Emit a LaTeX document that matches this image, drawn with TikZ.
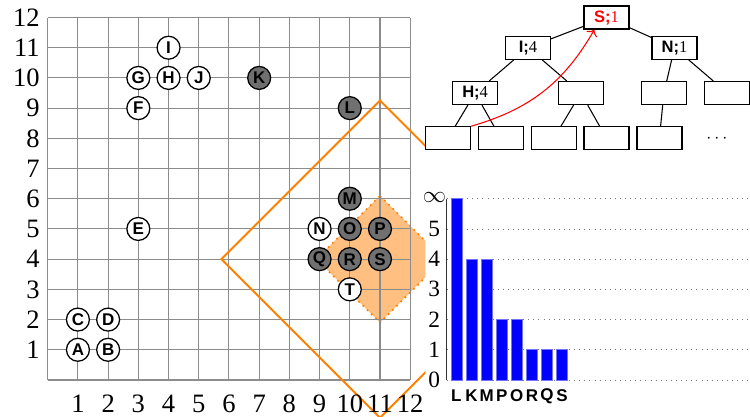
\documentclass[tikz,border=0pt]{standalone}
\usepackage{fontspec}
\setmainfont{Liberation Serif}
\setsansfont{Liberation Sans}
\usepackage{tikz}
\usetikzlibrary{arrows.meta}
\definecolor{figGrid}{RGB}{140,140,140}
\definecolor{figPoint}{RGB}{112,112,112}
\definecolor{figOrange}{RGB}{255,128,0}
\definecolor{figPeach}{RGB}{255,191,128}
\definecolor{figBar}{RGB}{0,0,255}
\definecolor{figDots}{RGB}{120,120,120}
\tikzset{
  figgrid/.style={draw=figGrid,line width=0.5pt},
  figptwhite/.style={circle,draw=black,line width=0.6pt,fill=white,minimum size=0.38cm,inner sep=0pt,font=\sffamily\bfseries\fontsize{8}{9}\selectfont},
  figptgray/.style={figptwhite,fill=figPoint},
  fignum/.style={inner sep=0pt,font=\fontsize{12.5}{14}\selectfont},
  figchartnum/.style={inner sep=0pt,font=\fontsize{11}{12}\selectfont,anchor=east},
  figtreebox/.style={draw=black,line width=0.6pt,fill=white,minimum width=0.745cm,minimum height=0.38cm,inner sep=0pt,font=\fontsize{7.8}{9}\selectfont},
  figedge/.style={draw=black,line width=0.5pt},
  figbar/.style={fill=figBar,draw=figBar!55,line width=0.3pt},
  figbarlabel/.style={inner sep=0pt,font=\sffamily\bfseries\fontsize{8}{9}\selectfont},
  figchartgrid/.style={draw=figDots,line width=0.4pt,dotted},
}
\newcommand{\TreeLabel}[2]{{\sffamily\bfseries #1;}#2}

\begin{document}
\begin{tikzpicture}[x=0.5cm,y=0.5cm]
\useasboundingbox (-1.58,-1.225) rectangle (23.25,12.58);

% Range regions, clipped to the grid side.
\begin{scope}
  \clip (-1.58,-1.225) rectangle (12.5,12.58);
  \draw[fill=figPeach,draw=figOrange,line width=0.8pt,dotted]
    (11,6.1) -- (13.1,4) -- (11,1.9) -- (8.9,4) -- cycle;
  \foreach \i in {0,...,12}{
    \draw[figgrid] (\i,0) -- (\i,12);
    \draw[figgrid] (0,\i) -- (12,\i);
  }
  \draw[draw=figOrange,line width=0.9pt]
    (11,9.25) -- (16.25,4) -- (11,-1.25) -- (5.75,4) -- cycle;
\end{scope}

% Axis numbers.
\foreach \i in {1,...,12}{
  \node[fignum,anchor=east] (ylab\i) at (-0.25,\i) {\i};
  \node[fignum] (xlab\i) at (\i,-0.8) {\i};
}

% Points.
\foreach \n/\x/\y in {A/1/1,B/2/1,C/1/2,D/2/2,E/3/5,F/3/9,G/3/10,H/4/10,I/4/11,J/5/10,N/9/5,T/10/3}
  \node[figptwhite] (pt\n) at (\x,\y) {\n};
\foreach \n/\x/\y in {K/7/10,L/10/9,M/10/6,O/10/5,P/11/5,Q/9/4,R/10/4,S/11/4}
  \node[figptgray] (pt\n) at (\x,\y) {\n};

% Tree.
\node[figtreebox,text=red] (tS) at (18.5,12) {\TreeLabel{S}{1}};
\node[figtreebox] (tI) at (15.9,11) {\TreeLabel{I}{4}};
\node[figtreebox] (tN) at (20.75,11) {\TreeLabel{N}{1}};
\node[figtreebox] (tH) at (14.15,9.5) {\TreeLabel{H}{4}};
\node[figtreebox] (tIr) at (17.65,9.5) {};
\node[figtreebox] (tNl) at (20.4,9.5) {};
\node[figtreebox] (tNr) at (22.5,9.5) {};
\node[figtreebox] (leafA) at (13.25,8) {};
\node[figtreebox] (leafB) at (15,8) {};
\node[figtreebox] (leafC) at (16.75,8) {};
\node[figtreebox] (leafD) at (18.5,8) {};
\node[figtreebox] (leafE) at (20.25,8) {};
\node[font=\fontsize{8}{9}\selectfont] (tdots) at (22.15,8) {$\cdots$};
\foreach \a/\b in {tS/tI,tS/tN,tI/tH,tI/tIr,tN/tNl,tN/tNr,tH/leafA,tH/leafB,tIr/leafC,tIr/leafD,tNl/leafE}
  \draw[figedge] (\a) -- (\b);
\draw[red,line width=0.5pt,->] (leafA.north east) to[bend right=22] (tS.225);

% Bar chart.
\foreach \v in {0,...,6}
  \draw[figchartgrid] (13.21,\v) -- (23.25,\v);
\draw[line width=0.6pt,draw=black!80] (13.21,0) -- (13.21,6);
\foreach \v in {0,...,5}
  \node[figchartnum] (clab\v) at (13.0,\v) {\v};
\node[figchartnum] (clabinf) at (13.2,6.05) {$\infty$};
\foreach \lab/\h [count=\k from 0] in {L/6,K/4,M/4,P/2,O/2,R/1,Q/1,S/1}{
  \draw[figbar] ({13.53+0.5*\k-0.185},0) rectangle ++(0.37,\h);
  \node[figbarlabel] (bar\lab) at ({13.53+0.5*\k},-0.53) {\lab};
}
\end{tikzpicture}
\end{document}
